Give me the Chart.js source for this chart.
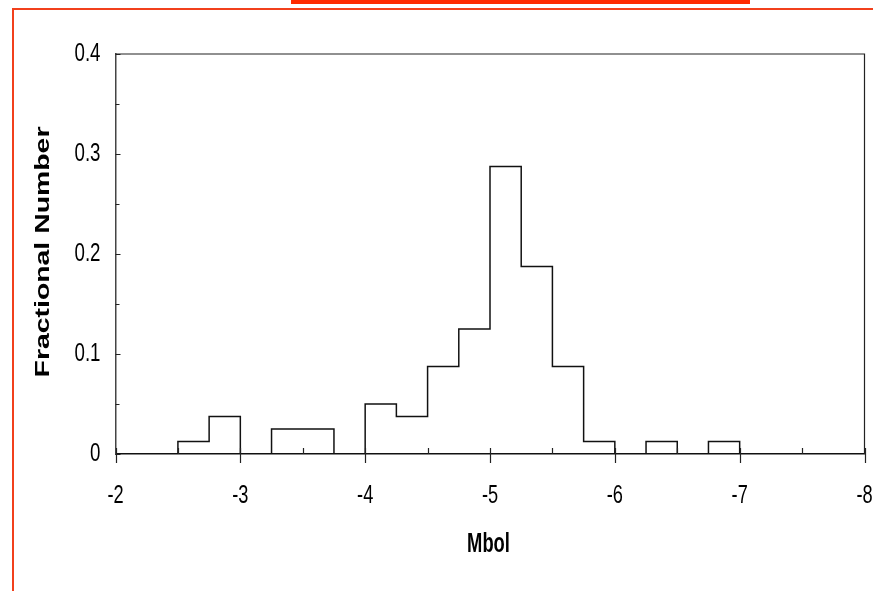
<!DOCTYPE html>
<html>
<head>
<meta charset="utf-8">
<script src="https://cdn.jsdelivr.net/npm/chart.js@4"></script>
<style>
  html, body { margin: 0; padding: 0; background: #fff; }
  #wrap { position: relative; width: 873px; height: 591px; overflow: hidden; }
  #chart { position: absolute; left: 0; top: 0; }
  .deco { position: absolute; background: #ff2a00; }
</style>
</head>
<body>
<div id="wrap">
  <canvas id="chart" width="873" height="591"></canvas>
  <div class="deco" style="left:291px; top:0; width:459px; height:4px;"></div>
  <div class="deco" style="left:13px; top:8px; width:860px; height:2px; background:#f2401c;"></div>
  <div class="deco" style="left:12px; top:8px; width:2px; height:583px; background:#f2401c;"></div>
</div>
<script>
// Histogram of bolometric magnitudes, bins of 0.25 mag
const binEdges = [-2.5, -2.75, -3.0, -3.25, -3.5, -3.75, -4.0, -4.25, -4.5, -4.75,
                  -5.0, -5.25, -5.5, -5.75, -6.0, -6.25, -6.5, -6.75, -7.0];
const fractions = [0.0125, 0.0375, 0, 0.025, 0.025, 0, 0.05, 0.0375, 0.0875, 0.125,
                   0.2875, 0.1875, 0.0875, 0.0125, 0, 0.0125, 0, 0.0125];
const xTicks = [-2, -3, -4, -5, -6, -7, -8];
const yTicks = [0, 0.1, 0.2, 0.3, 0.4];
const xTitle = 'Mbol';
const yTitle = 'Fractional Number';

// Outline points for a stepped line
const points = [{ x: binEdges[0], y: 0 }];
fractions.forEach((f, i) => points.push({ x: binEdges[i], y: f }));
points.push({ x: binEdges[binEdges.length - 1], y: 0 });

const FONT = "'Liberation Sans', Arial, sans-serif";

// the original picture is stretched vertically, so text is drawn squeezed
function squeezedText(ctx, text, x, y, font, sx, align, rot) {
  ctx.save();
  ctx.translate(x, y);
  if (rot) ctx.rotate(rot);
  ctx.scale(sx, 1);
  ctx.font = font;
  ctx.fillStyle = '#000';
  ctx.textAlign = align;
  ctx.textBaseline = 'middle';
  ctx.fillText(text, 0, 0);
  ctx.restore();
}

// Tick marks, frame and all labels
const axisMarks = {
  id: 'axisMarks',
  afterDraw(chart) {
    const { ctx, chartArea: a, scales: { x, y } } = chart;
    ctx.save();
    ctx.strokeStyle = '#222';
    ctx.lineWidth = 1.2;
    ctx.beginPath();
    // frame top + right
    ctx.moveTo(a.left, a.top);
    ctx.lineTo(a.right, a.top);
    ctx.lineTo(a.right, a.bottom);
    // x major ticks cross the axis, minor ones point up
    xTicks.forEach(v => {
      const px = Math.round(x.getPixelForValue(v)) + 0.5;
      ctx.moveTo(px, a.bottom - 6);
      ctx.lineTo(px, a.bottom + 9);
      if (v > -8) {
        const mx = Math.round(x.getPixelForValue(v - 0.5)) + 0.5;
        ctx.moveTo(mx, a.bottom - 6);
        ctx.lineTo(mx, a.bottom);
      }
    });
    // y ticks point right
    yTicks.forEach(v => {
      const py = Math.round(y.getPixelForValue(v)) + 0.5;
      ctx.moveTo(a.left, py);
      ctx.lineTo(a.left + 5, py);
      if (v < 0.4) {
        const my = Math.round(y.getPixelForValue(v + 0.05)) + 0.5;
        ctx.moveTo(a.left, my);
        ctx.lineTo(a.left + 4, my);
      }
    });
    ctx.stroke();
    ctx.restore();

    // tick labels
    x.ticks.forEach((t, i) => {
      squeezedText(ctx, String(t.value), x.getPixelForTick(i), a.bottom + 42, '26px ' + FONT, 0.7, 'center');
    });
    y.ticks.forEach((t, i) => {
      squeezedText(ctx, String(t.value), a.left - 15, y.getPixelForTick(i), '26px ' + FONT, 0.72, 'right');
    });
    // axis titles
    squeezedText(ctx, xTitle, (a.left + a.right) / 2 - 1.5, 545, 'bold 27px ' + FONT, 0.68, 'center');
    ctx.save();
    ctx.translate(43, (a.top + a.bottom) / 2 - 2);
    ctx.rotate(-Math.PI / 2);
    ctx.scale(1.42, 1);
    ctx.font = 'bold 20px ' + FONT;
    ctx.fillStyle = '#000';
    ctx.textAlign = 'center';
    ctx.textBaseline = 'middle';
    ctx.fillText(yTitle, 0, 0);
    ctx.restore();
  }
};

const ctx = document.getElementById('chart');

const chart = new Chart(ctx, {
  type: 'line',
  data: {
    datasets: [{
      label: yTitle,
      data: points,
      stepped: 'before',
      borderColor: '#111',
      borderWidth: 1.5,
      pointRadius: 0,
      fill: false
    }]
  },
  options: {
    responsive: false,
    animation: false,
    layout: { padding: { left: 0, right: 0, top: 54, bottom: 0 } },
    plugins: {
      legend: { display: false },
      tooltip: { enabled: false }
    },
    scales: {
      x: {
        type: 'linear',
        reverse: true,
        min: -8,
        max: -2,
        afterBuildTicks: s => { s.ticks = xTicks.map(v => ({ value: v })); },
        afterFit: s => { s.height = 591 - 454; s.paddingRight = 8.5; s.paddingLeft = 0; },
        grid: { display: false, drawTicks: false },
        border: { display: true, color: '#111', width: 1.5 },
        ticks: { display: false },
        title: { display: false, text: xTitle }
      },
      y: {
        min: 0,
        max: 0.4,
        afterBuildTicks: s => { s.ticks = yTicks.map(v => ({ value: v })); },
        afterFit: s => { s.width = 115.5; },
        grid: { display: false, drawTicks: false },
        border: { display: true, color: '#444', width: 1.5 },
        ticks: { display: false },
        title: { display: false, text: yTitle }
      }
    }
  },
  plugins: [axisMarks]
});
</script>
</body>
</html>
